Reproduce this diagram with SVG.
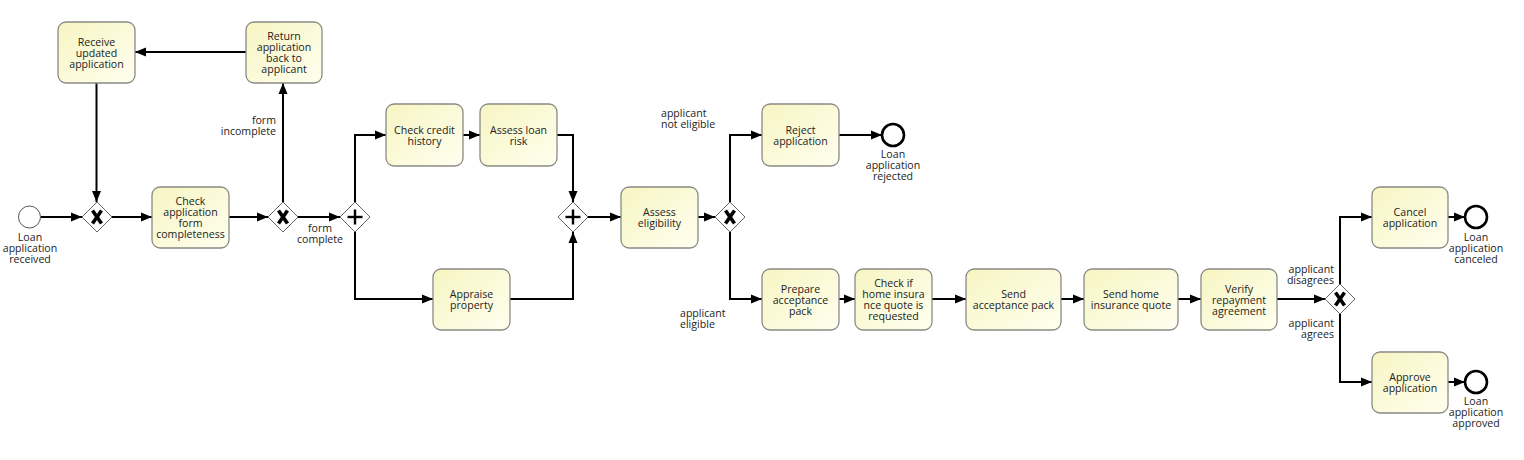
<svg xmlns="http://www.w3.org/2000/svg" width="1524" height="460" viewBox="0 0 1524 460">
<defs>
<linearGradient id="tg" x1="0" y1="0" x2="1" y2="1">
<stop offset="0" stop-color="#f7f5c2"/>
<stop offset="1" stop-color="#fffff0"/>
</linearGradient>
<marker id="ar" markerUnits="userSpaceOnUse" markerWidth="12" markerHeight="10" refX="11" refY="5" orient="auto">
<path d="M0,0.5 L11,5 L0,9.5 Z" fill="#000"/>
</marker>
</defs>
<style>
text{font-family:"Open Sans","Noto Sans","DejaVu Sans",sans-serif;font-size:10.6px;fill:#222}
.t rect{fill:url(#tg);stroke:#8a8a84;stroke-width:1.3}
.t text{text-anchor:middle}
.lbl{text-anchor:middle}
.gw polygon{fill:#fff;stroke:#666;stroke-width:1}
.gx line{stroke:#000;stroke-width:3.6;stroke-linecap:butt}
.gp line{stroke:#000;stroke-width:2.4}
.se circle{fill:#fff;stroke:#555;stroke-width:1}
.ee circle{fill:#fff;stroke:#000;stroke-width:2.6}
#connectors path{fill:none;stroke:#000;stroke-width:2;marker-end:url(#ar)}
</style>
<rect width="1524" height="460" fill="#fff"/>

<g id="connectors">
<path d="M41,217 H82"/>
<path d="M112,217 H152"/>
<path d="M229,217 H268"/>
<path d="M283,202 V83"/>
<path d="M246,52 H135"/>
<path d="M96.5,83 V202"/>
<path d="M298,217 H340"/>
<path d="M355,202 V135 H386"/>
<path d="M355,232 V299 H433"/>
<path d="M463,135 H480"/>
<path d="M557,135 H573 V202"/>
<path d="M510,299 H573 V232"/>
<path d="M588,217 H621"/>
<path d="M698,217 H715"/>
<path d="M730,202 V135 H762"/>
<path d="M730,232 V299 H762"/>
<path d="M839,135 H882"/>
<path d="M839,299 H855"/>
<path d="M932,299 H966"/>
<path d="M1061,299 H1084"/>
<path d="M1178,299 H1201"/>
<path d="M1277,299 H1325"/>
<path d="M1340,284 V217 H1372"/>
<path d="M1340,314 V382 H1372"/>
<path d="M1448,217 H1465"/>
<path d="M1448,382 H1465"/>
<text x="276" y="124" text-anchor="end">form</text>
<text x="276" y="135" text-anchor="end">incomplete</text>
<text x="320" y="232" text-anchor="middle">form</text>
<text x="320" y="243" text-anchor="middle">complete</text>
<text x="661" y="117">applicant</text>
<text x="661" y="128">not eligible</text>
<text x="680" y="317">applicant</text>
<text x="680" y="328">eligible</text>
<text x="1334" y="273" text-anchor="end">applicant</text>
<text x="1334" y="284" text-anchor="end">disagrees</text>
<text x="1334" y="327" text-anchor="end">applicant</text>
<text x="1334" y="338" text-anchor="end">agrees</text>
</g>

<g id="start" class="se">
<circle cx="29.5" cy="217" r="11"/>
<text class="lbl" x="30" y="241">Loan</text>
<text class="lbl" x="30" y="252">application</text>
<text class="lbl" x="30" y="263">received</text>
</g>

<g id="gw1" class="gw gx" transform="translate(97,217)">
<polygon points="0,-15 15,0 0,15 -15,0"/>
<line x1="-4.5" y1="-6.5" x2="4.5" y2="6.5"/><line x1="4.5" y1="-6.5" x2="-4.5" y2="6.5"/>
</g>

<g id="receive" class="t">
<rect x="58" y="22" width="77" height="61" rx="8"/>
<text x="96.5" y="45.5">Receive</text>
<text x="96.5" y="56.5">updated</text>
<text x="96.5" y="67.5">application</text>
</g>

<g id="return" class="t">
<rect x="246" y="22" width="76" height="61" rx="8"/>
<text x="284" y="40">Return</text>
<text x="284" y="51">application</text>
<text x="284" y="62">back to</text>
<text x="284" y="73">applicant</text>
</g>

<g id="checkform" class="t">
<rect x="152" y="187" width="77" height="61" rx="8"/>
<text x="190.5" y="205">Check</text>
<text x="190.5" y="216">application</text>
<text x="190.5" y="227">form</text>
<text x="190.5" y="238">completeness</text>
</g>

<g id="gw2" class="gw gx" transform="translate(283,217)">
<polygon points="0,-15 15,0 0,15 -15,0"/>
<line x1="-4.5" y1="-6.5" x2="4.5" y2="6.5"/><line x1="4.5" y1="-6.5" x2="-4.5" y2="6.5"/>
</g>

<g id="pgw1" class="gw gp" transform="translate(355,217)">
<polygon points="0,-15 15,0 0,15 -15,0"/>
<line x1="-7.5" y1="0" x2="7.5" y2="0"/><line x1="0" y1="-7.5" x2="0" y2="7.5"/>
</g>

<g id="credit" class="t">
<rect x="386" y="104" width="77" height="62" rx="8"/>
<text x="424.5" y="133.5">Check credit</text>
<text x="424.5" y="144.5">history</text>
</g>

<g id="risk" class="t">
<rect x="480" y="104" width="77" height="62" rx="8"/>
<text x="518.5" y="133.5">Assess loan</text>
<text x="518.5" y="144.5">risk</text>
</g>

<g id="appraise" class="t">
<rect x="433" y="269" width="77" height="61" rx="8"/>
<text x="471.5" y="298">Appraise</text>
<text x="471.5" y="309">property</text>
</g>

<g id="pgw2" class="gw gp" transform="translate(573,217)">
<polygon points="0,-15 15,0 0,15 -15,0"/>
<line x1="-7.5" y1="0" x2="7.5" y2="0"/><line x1="0" y1="-7.5" x2="0" y2="7.5"/>
</g>

<g id="eligibility" class="t">
<rect x="621" y="187" width="77" height="61" rx="8"/>
<text x="659.5" y="216">Assess</text>
<text x="659.5" y="227">eligibility</text>
</g>

<g id="gw3" class="gw gx" transform="translate(730,217)">
<polygon points="0,-15 15,0 0,15 -15,0"/>
<line x1="-4.5" y1="-6.5" x2="4.5" y2="6.5"/><line x1="4.5" y1="-6.5" x2="-4.5" y2="6.5"/>
</g>

<g id="reject" class="t">
<rect x="762" y="104" width="77" height="62" rx="8"/>
<text x="800.5" y="133.5">Reject</text>
<text x="800.5" y="144.5">application</text>
</g>

<g id="endrejected" class="ee">
<circle cx="893" cy="135" r="11"/>
<text class="lbl" x="893" y="158">Loan</text>
<text class="lbl" x="893" y="169">application</text>
<text class="lbl" x="893" y="180">rejected</text>
</g>

<g id="prepare" class="t">
<rect x="762" y="269" width="77" height="61" rx="8"/>
<text x="800.5" y="292.5">Prepare</text>
<text x="800.5" y="303.5">acceptance</text>
<text x="800.5" y="314.5">pack</text>
</g>

<g id="checkif" class="t">
<rect x="855" y="269" width="77" height="61" rx="8"/>
<text x="893.5" y="287">Check if</text>
<text x="893.5" y="298">home insura</text>
<text x="893.5" y="309">nce quote is</text>
<text x="893.5" y="320">requested</text>
</g>

<g id="sendpack" class="t">
<rect x="966" y="269" width="95" height="61" rx="8"/>
<text x="1013.5" y="298">Send</text>
<text x="1013.5" y="309">acceptance pack</text>
</g>

<g id="sendquote" class="t">
<rect x="1084" y="269" width="94" height="61" rx="8"/>
<text x="1131" y="298">Send home</text>
<text x="1131" y="309">insurance quote</text>
</g>

<g id="verify" class="t">
<rect x="1201" y="269" width="76" height="61" rx="8"/>
<text x="1239" y="292.5">Verify</text>
<text x="1239" y="303.5">repayment</text>
<text x="1239" y="314.5">agreement</text>
</g>

<g id="gw4" class="gw gx" transform="translate(1340,299)">
<polygon points="0,-15 15,0 0,15 -15,0"/>
<line x1="-4.5" y1="-6.5" x2="4.5" y2="6.5"/><line x1="4.5" y1="-6.5" x2="-4.5" y2="6.5"/>
</g>

<g id="cancel" class="t">
<rect x="1372" y="187" width="76" height="61" rx="8"/>
<text x="1410" y="216">Cancel</text>
<text x="1410" y="227">application</text>
</g>

<g id="approve" class="t">
<rect x="1372" y="352" width="76" height="61" rx="8"/>
<text x="1410" y="381">Approve</text>
<text x="1410" y="392">application</text>
</g>

<g id="endcanceled" class="ee">
<circle cx="1476" cy="217" r="11"/>
<text class="lbl" x="1476" y="241">Loan</text>
<text class="lbl" x="1476" y="252">application</text>
<text class="lbl" x="1476" y="263">canceled</text>
</g>

<g id="endapproved" class="ee">
<circle cx="1476" cy="382" r="11"/>
<text class="lbl" x="1476" y="405">Loan</text>
<text class="lbl" x="1476" y="416">application</text>
<text class="lbl" x="1476" y="427">approved</text>
</g>
</svg>
